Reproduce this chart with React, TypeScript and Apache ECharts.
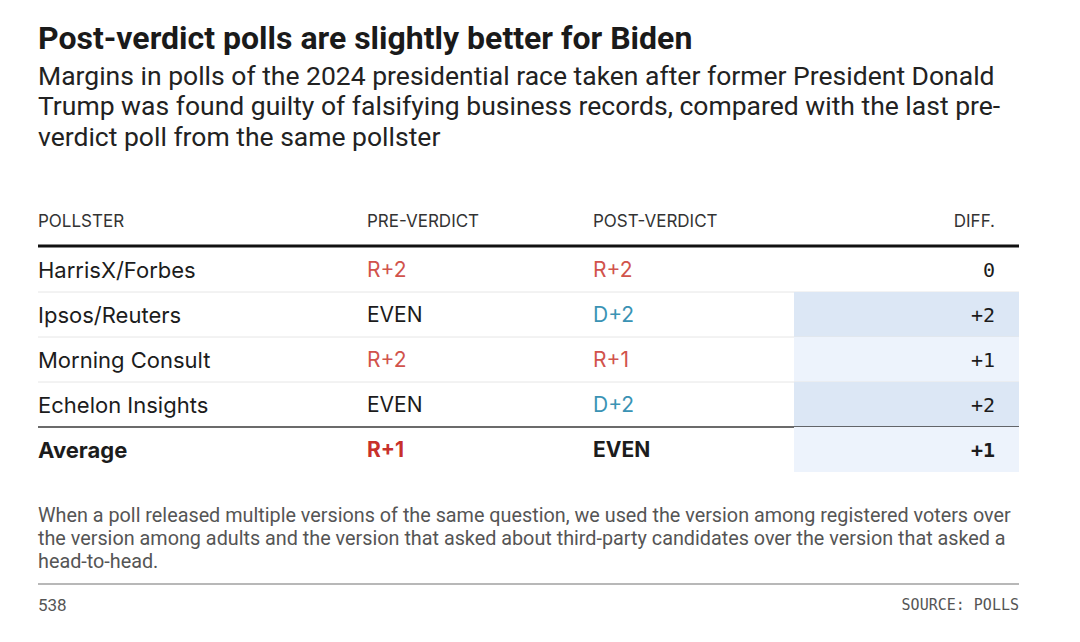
import React, { useEffect, useRef } from "react";
import * as echarts from "echarts";

const titleText = "Post-verdict polls are slightly better for Biden";
const subtitleLines = [
  "Margins in polls of the 2024 presidential race taken after former President Donald",
  "Trump was found guilty of falsifying business records, compared with the last pre-",
  "verdict poll from the same pollster",
];
const headers = ["POLLSTER", "PRE-VERDICT", "POST-VERDICT", "DIFF."];
const pollsters = ["HarrisX/Forbes", "Ipsos/Reuters", "Morning Consult", "Echelon Insights", "Average"];
const preVerdict = ["R+2", "EVEN", "R+2", "EVEN", "R+1"];
const postVerdict = ["R+2", "D+2", "R+1", "D+2", "EVEN"];
const diffs = [0, 2, 1, 2, 1];
const footnoteLines = [
  "When a poll released multiple versions of the same question, we used the version among registered voters over",
  "the version among adults and the version that asked about third-party candidates over the version that asked a",
  "head-to-head.",
];
const creditText = "538";
const sourceText = "SOURCE: POLLS";

// layout (x axis units = pixels from table left)
const COL_PRE = 329;
const COL_POST = 555;
const COL_DIFF_RIGHT = 957;
const DIFF_BG_LEFT = 756;
const TABLE_W = 981;

const SANS = "Inter, 'Noto Sans', sans-serif";
const COND = "Roboto, 'Liberation Sans', sans-serif";
const MONO = "'DejaVu Sans Mono', 'Liberation Mono', monospace";

function marginColor(m: string, bold: boolean) {
  if (m.startsWith("R")) return bold ? "#c8302b" : "#d1534c";
  if (m.startsWith("D")) return "#3a93b4";
  return "#1c1c1c";
}
function diffBg(d: number) {
  if (d >= 2) return "#dce7f5";
  if (d >= 1) return "#edf3fc";
  return "transparent";
}
function fmtDiff(d: number) {
  return d > 0 ? "+" + d : String(d);
}

export default function App() {
  const ref = useRef<HTMLDivElement>(null);
  useEffect(() => {
    if (!ref.current) return;
    const chart = echarts.init(ref.current, null, { renderer: "svg" });
    const n = pollsters.length;
    const option: any = {
      animation: false,
      backgroundColor: "#ffffff",
      grid: { left: 38, top: 247, width: TABLE_W, height: 225 },
      xAxis: { type: "value", min: 0, max: TABLE_W, show: false },
      yAxis: { type: "category", data: pollsters, inverse: true, show: false },
      series: [
        {
          type: "custom",
          silent: true,
          data: pollsters.map((p, i) => [0, i]),
          renderItem: (params: any, api: any) => {
            const i = api.value(1);
            const isAvg = i === n - 1;
            const c = api.coord([0, i]);
            const h = api.size([0, 1])[1];
            const x0 = c[0];
            const yc = c[1];
            const top = yc - h / 2;
            const bottom = yc + h / 2;
            const xPre = api.coord([COL_PRE, i])[0];
            const xPost = api.coord([COL_POST, i])[0];
            const xDiff = api.coord([COL_DIFF_RIGHT, i])[0];
            const xBg = api.coord([DIFF_BG_LEFT, i])[0];
            const xEnd = api.coord([TABLE_W, i])[0];
            const weight = isAvg ? "bold" : "normal";
            const children: any[] = [
              {
                type: "rect",
                shape: { x: xBg, y: top, width: xEnd - xBg, height: h },
                style: { fill: diffBg(diffs[i]) },
              },
            ];
            if (i < n - 1) {
              children.push({
                type: "line",
                shape: { x1: x0, y1: bottom, x2: xEnd, y2: bottom },
                style: {
                  stroke: i === n - 2 ? "#3a3a3a" : "#e6e6e6",
                  lineWidth: i === n - 2 ? 1.5 : 1,
                },
              });
            }
            children.push(
              {
                type: "text",
                x: x0,
                y: yc,
                style: {
                  text: pollsters[i],
                  fill: "#1c1c1c",
                  font: `${weight} 22px ${SANS}`,
                  verticalAlign: "middle",
                  align: "left",
                },
              },
              {
                type: "text",
                x: xPre,
                y: yc,
                style: {
                  text: preVerdict[i],
                  fill: marginColor(preVerdict[i], isAvg),
                  font: `${weight} 21px ${SANS}`,
                  verticalAlign: "middle",
                  align: "left",
                },
              },
              {
                type: "text",
                x: xPost,
                y: yc,
                style: {
                  text: postVerdict[i],
                  fill: marginColor(postVerdict[i], isAvg),
                  font: `${weight} 21px ${SANS}`,
                  verticalAlign: "middle",
                  align: "left",
                },
              },
              {
                type: "text",
                x: xDiff,
                y: yc,
                style: {
                  text: fmtDiff(diffs[i]),
                  fill: "#1c1c1c",
                  font: `${weight} 20px ${MONO}`,
                  verticalAlign: "middle",
                  align: "right",
                },
              }
            );
            return { type: "group", children };
          },
        },
      ],
      graphic: [
        {
          type: "text",
          x: 38,
          y: 38,
          style: { text: titleText, fill: "#1a1a1a", font: `bold 32px ${COND}`, verticalAlign: "middle" },
        },
        ...subtitleLines.map((t, k) => ({
          type: "text",
          x: 38,
          y: 75 + k * 30.5,
          style: { text: t, fill: "#222222", font: `normal 26.5px ${COND}`, verticalAlign: "middle" },
        })),
        ...headers.map((h, k) => ({
          type: "text",
          x: 38 + [0, COL_PRE, COL_POST, COL_DIFF_RIGHT][k],
          y: 221,
          style: {
            text: h,
            fill: "#333333",
            font: `normal 17px ${SANS}`,
            verticalAlign: "middle",
            align: k === 3 ? "right" : "left",
          },
        })),
        {
          type: "line",
          shape: { x1: 38, y1: 246, x2: 38 + TABLE_W, y2: 246 },
          style: { stroke: "#111111", lineWidth: 3 },
        },
        ...footnoteLines.map((t, k) => ({
          type: "text",
          x: 38,
          y: 515 + k * 23,
          style: { text: t, fill: "#555555", font: `normal 19.8px ${COND}`, verticalAlign: "middle" },
        })),
        {
          type: "line",
          shape: { x1: 38, y1: 584, x2: 38 + TABLE_W, y2: 584 },
          style: { stroke: "#a0a0a0", lineWidth: 1.5 },
        },
        {
          type: "text",
          x: 38,
          y: 605,
          style: { text: creditText, fill: "#555555", font: `normal 17px ${COND}`, verticalAlign: "middle" },
        },
        {
          type: "text",
          x: 38 + TABLE_W,
          y: 605,
          style: {
            text: sourceText,
            fill: "#555555",
            font: `normal 15px ${MONO}`,
            verticalAlign: "middle",
            align: "right",
          },
        },
      ],
    };
    chart.setOption(option);
    return () => chart.dispose();
  }, []);
  return (
    <div
      ref={ref}
      style={{ position: "absolute", left: 0, top: 0, width: 1080, height: 642, background: "#fff" }}
    />
  );
}
